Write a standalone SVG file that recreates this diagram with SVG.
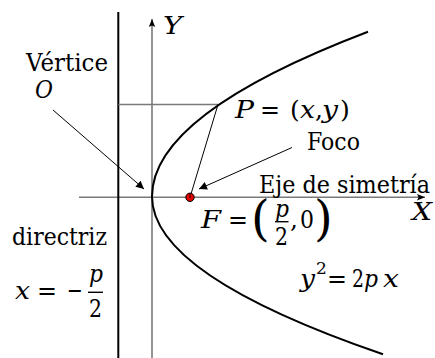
<svg xmlns="http://www.w3.org/2000/svg" width="435" height="358" viewBox="0 0 435 358">
<style>
text{font-size:25px;fill:#000}
.it{font-style:italic}
.big{font-size:48px}
.sup{font-size:17px}
.ax{stroke:#7a7a7a;stroke-width:1.6;fill:none}
.thin{stroke:#000;stroke-width:1;fill:none}
.bar{stroke:#000;stroke-width:1.4}
</style>
<defs>
<marker id="ah" viewBox="0 0 10 10" refX="10" refY="5" markerWidth="10" markerHeight="8" markerUnits="userSpaceOnUse" orient="auto">
<path d="M0,0 L10,5 L0,10 Z" fill="#000"/>
</marker>
<marker id="ahs" viewBox="0 0 10 10" refX="10" refY="5" markerWidth="11" markerHeight="8" markerUnits="userSpaceOnUse" orient="auto">
<path d="M0,1 L10,5 L0,9 L2,5 Z" fill="#000"/>
</marker>
</defs>
<rect width="435" height="358" fill="#fff"/>
<g id="connectors">
<line id="x-axis" class="ax" x1="79" y1="197.3" x2="425" y2="197.3" marker-end="url(#ahs)"/>
<line id="y-axis" class="ax" x1="152" y1="358" x2="152" y2="19" marker-end="url(#ahs)"/>
<line id="directriz-line" x1="118.3" y1="12" x2="118.3" y2="358" stroke="#000" stroke-width="2"/>
<line id="P-to-directriz" class="ax" x1="118.3" y1="104.5" x2="218" y2="104.5"/>
<line id="P-to-F" class="thin" x1="218" y1="104.5" x2="190" y2="197.3"/>
<line id="O-arrow" class="thin" x1="53" y1="110" x2="144" y2="189" marker-end="url(#ah)"/>
<line id="foco-arrow" class="thin" x1="292" y1="147.5" x2="199" y2="189" marker-end="url(#ah)"/>
</g>
<g id="parabola">
<path d="M368,31.7 Q152,114 152,196.5 Q152,275 383,354.3" fill="none" stroke="#000" stroke-width="2"/>
</g>
<g id="focus">
<circle cx="190" cy="197.3" r="4.2" fill="#e00000" stroke="#000" stroke-width="1"/>
<line x1="190" y1="193" x2="190" y2="198" stroke="#000" stroke-width="0.8"/>
</g>
<g id="labels" font-family="DejaVu Serif, serif">
<g id="label-vertice">
<text x="26" y="71" textLength="82" lengthAdjust="spacingAndGlyphs">Vértice</text>
<text class="it" x="35" y="98" textLength="18" lengthAdjust="spacingAndGlyphs">O</text>
</g>
<g id="label-Y"><text class="it" x="163" y="34" textLength="19" lengthAdjust="spacingAndGlyphs">Y</text></g>
<g id="label-X"><text class="it" x="412" y="220" textLength="20" lengthAdjust="spacingAndGlyphs">X</text></g>
<g id="label-P">
<text class="it" x="235" y="118" textLength="19" lengthAdjust="spacingAndGlyphs">P</text>
<text x="260" y="118" textLength="20" lengthAdjust="spacingAndGlyphs">=</text>
<text x="290" y="118">(</text>
<text class="it" x="300" y="118" textLength="15" lengthAdjust="spacingAndGlyphs">x</text>
<text x="315" y="118">,</text>
<text class="it" x="322" y="118" textLength="16" lengthAdjust="spacingAndGlyphs">y</text>
<text x="340" y="118">)</text>
</g>
<g id="label-foco"><text x="307" y="150" textLength="53" lengthAdjust="spacingAndGlyphs">Foco</text></g>
<g id="label-eje"><text x="259" y="193" textLength="171" lengthAdjust="spacingAndGlyphs">Eje de simetría</text></g>
<g id="label-F">
<text class="it" x="201" y="228" textLength="20" lengthAdjust="spacingAndGlyphs">F</text>
<text x="228" y="228" textLength="20" lengthAdjust="spacingAndGlyphs">=</text>
<text class="big" x="251" y="235">(</text>
<text class="it" x="275" y="217" textLength="14" lengthAdjust="spacingAndGlyphs">p</text>
<line class="bar" x1="275" y1="221.7" x2="288.5" y2="221.7"/>
<text x="275" y="245" textLength="13" lengthAdjust="spacingAndGlyphs">2</text>
<text x="290" y="228">,</text>
<text x="300" y="228" textLength="14" lengthAdjust="spacingAndGlyphs">0</text>
<text class="big" x="314" y="235">)</text>
</g>
<g id="label-directriz">
<text x="12" y="245" textLength="95" lengthAdjust="spacingAndGlyphs">directriz</text>
<text class="it" x="15" y="299" textLength="15" lengthAdjust="spacingAndGlyphs">x</text>
<text x="37" y="299" textLength="20" lengthAdjust="spacingAndGlyphs">=</text>
<text x="67" y="299" textLength="16" lengthAdjust="spacingAndGlyphs">−</text>
<text class="it" x="89" y="282" textLength="14" lengthAdjust="spacingAndGlyphs">p</text>
<line class="bar" x1="88" y1="292.3" x2="103" y2="292.3"/>
<text x="89" y="316.5" textLength="13" lengthAdjust="spacingAndGlyphs">2</text>
</g>
<g id="label-eq">
<text class="it" x="300" y="287" textLength="15" lengthAdjust="spacingAndGlyphs">y</text>
<text class="sup" x="316" y="274">2</text>
<text x="327" y="287" textLength="20" lengthAdjust="spacingAndGlyphs">=</text>
<text x="352" y="287" textLength="12" lengthAdjust="spacingAndGlyphs">2</text>
<text class="it" x="364" y="287" textLength="14" lengthAdjust="spacingAndGlyphs">p</text>
<text class="it" x="383" y="287" textLength="16" lengthAdjust="spacingAndGlyphs">x</text>
</g>
</g>
</svg>
